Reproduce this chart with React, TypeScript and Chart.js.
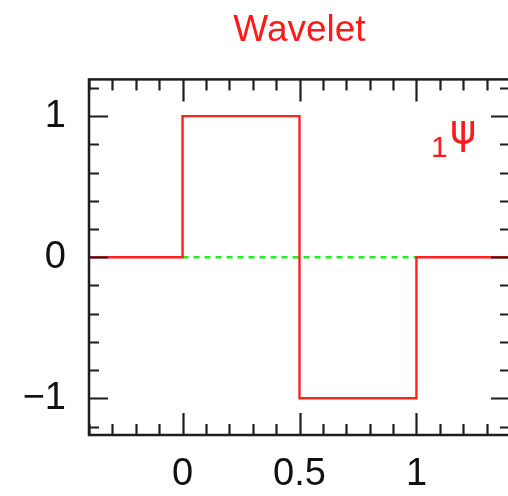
import React, { useEffect, useRef } from "react";
import { Chart, registerables } from "chart.js";

Chart.register(...registerables);

// Haar mother wavelet, drawn as a step outline
const waveletX = [-0.4, 0, 0, 0.5, 0.5, 1, 1, 1.4];
const waveletY = [0, 0, 1, 1, -1, -1, 0, 0];

// zero reference over the wavelet support
const zeroLineX = [0, 1];
const zeroLineY = [0, 0];

const xTickValues = [0, 0.5, 1];
const yTickValues = [-1, 0, 1];

const TICK_FONT = "'Liberation Sans', Arial, Helvetica, sans-serif";

const fmt = (v: number) => (v < 0 ? "\u2212" + Math.abs(v) : String(v));

// IDL-style box frame with inward major and minor ticks on all four sides
const framePlugin = {
  id: "frame",
  afterDatasetsDraw(chart: any) {
    const { ctx, chartArea: a, scales } = chart;
    const xs = scales.x;
    const ys = scales.y;
    ctx.save();
    ctx.strokeStyle = "#1e1e1e";
    ctx.lineWidth = 2.5;
    ctx.lineCap = "butt";
    ctx.strokeRect(a.left, a.top, a.right - a.left, a.bottom - a.top);

    ctx.lineWidth = 2.2;
    const xMajor = 22, xMinor = 11, yMajor = 19, yMinor = 10;
    const eps = 1e-6;

    for (let i = Math.ceil(xs.min / 0.1 - eps); i * 0.1 <= xs.max + eps; i++) {
      const v = i * 0.1;
      const isMajor = Math.abs(v / 0.5 - Math.round(v / 0.5)) < eps;
      const len = isMajor ? xMajor : xMinor;
      const px = Math.round(xs.getPixelForValue(v)) + 0.5;
      ctx.beginPath();
      ctx.moveTo(px, a.bottom);
      ctx.lineTo(px, a.bottom - len);
      ctx.moveTo(px, a.top);
      ctx.lineTo(px, a.top + len);
      ctx.stroke();
    }
    for (let i = Math.ceil(ys.min / 0.2 - eps); i * 0.2 <= ys.max + eps; i++) {
      const v = i * 0.2;
      const isMajor = Math.abs(v - Math.round(v)) < eps;
      const len = isMajor ? yMajor : yMinor;
      const py = Math.round(ys.getPixelForValue(v)) + 0.5;
      ctx.beginPath();
      ctx.moveTo(a.left, py);
      ctx.lineTo(a.left + len, py);
      ctx.moveTo(a.right, py);
      ctx.lineTo(a.right - len, py);
      ctx.stroke();
    }
    ctx.restore();
  },
};

// "₁ψ" label beside the wavelet
const psiLabelPlugin = {
  id: "psiLabel",
  afterDatasetsDraw(chart: any) {
    const { ctx, scales } = chart;
    ctx.save();
    ctx.fillStyle = "#ff1a1a";
    ctx.textAlign = "center";
    ctx.textBaseline = "middle";
    ctx.font = `30px ${TICK_FONT}`;
    ctx.fillText("1", scales.x.getPixelForValue(1.098), scales.y.getPixelForValue(0.766));
    ctx.font = "40px 'DejaVu Sans', sans-serif";
    ctx.fillText("\u03c8", scales.x.getPixelForValue(1.2), scales.y.getPixelForValue(0.885));
    ctx.restore();
  },
};

export default function App() {
  const canvasRef = useRef<HTMLCanvasElement | null>(null);

  useEffect(() => {
    if (!canvasRef.current) return;
    const chart = new Chart(canvasRef.current, {
      type: "scatter",
      data: {
        datasets: [
          {
            label: "wavelet",
            data: waveletX.map((x, i) => ({ x, y: waveletY[i] })),
            showLine: true,
            borderColor: "#ff2020",
            borderWidth: 2.4,
            pointRadius: 0,
            tension: 0,
          },
          {
            label: "zero",
            data: zeroLineX.map((x, i) => ({ x, y: zeroLineY[i] })),
            showLine: true,
            borderColor: "#22ee22",
            borderWidth: 2.4,
            borderDash: [6, 5],
            pointRadius: 0,
          },
        ],
      },
      options: {
        animation: false,
        responsive: false,
        layout: { padding: { top: 0, right: 10, bottom: 0, left: 0 } },
        plugins: {
          legend: { display: false },
          tooltip: { enabled: false },
          title: {
            display: true,
            text: "Wavelet",
            color: "#ff1a1a",
            fullSize: false,
            font: { family: TICK_FONT, size: 37, weight: "normal", lineHeight: 1.2 },
            padding: { top: 9, bottom: 26 },
          },
        },
        scales: {
          x: {
            type: "linear",
            min: -0.4,
            max: 1.4,
            grid: { display: false, drawTicks: false },
            border: { display: false },
            afterBuildTicks: (s: any) => {
              s.ticks = xTickValues.map((value) => ({ value }));
            },
            afterFit: (s: any) => {
              s.height = 61;
            },
            ticks: {
              padding: 17,
              color: "#111",
              maxRotation: 0,
              font: { family: TICK_FONT, size: 38 },
              callback: (v: any) => fmt(Number(v)),
            },
          },
          y: {
            type: "linear",
            min: -1.26,
            max: 1.26,
            grid: { display: false, drawTicks: false },
            border: { display: false },
            afterBuildTicks: (s: any) => {
              s.ticks = yTickValues.map((value) => ({ value }));
            },
            afterFit: (s: any) => {
              s.width = 89;
            },
            ticks: {
              padding: 23,
              color: "#111",
              font: { family: TICK_FONT, size: 38 },
              callback: (v: any) => fmt(Number(v)),
            },
          },
        },
      },
      plugins: [framePlugin, psiLabelPlugin],
    } as any);
    return () => chart.destroy();
  }, []);

  return (
    <div
      style={{
        position: "absolute",
        left: 0,
        top: 0,
        width: 508,
        height: 496,
        overflow: "hidden",
        background: "#fff",
      }}
    >
      <canvas ref={canvasRef} width={520} height={496} style={{ display: "block" }} />
    </div>
  );
}
